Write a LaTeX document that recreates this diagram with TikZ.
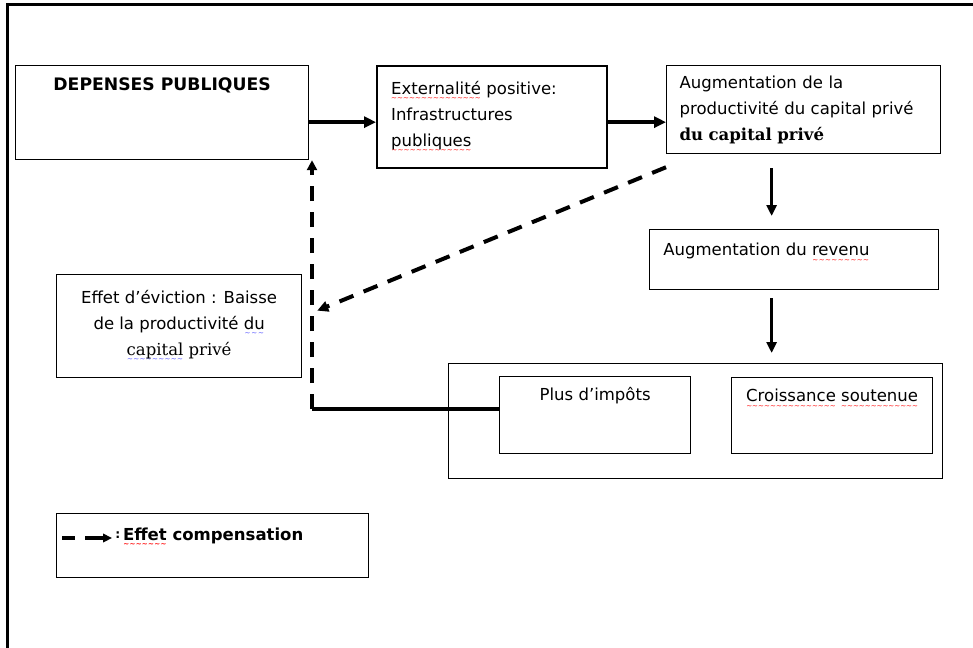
\documentclass[tikz,border=0pt]{standalone}
\usepackage{fontspec}
\setmainfont{DejaVu Sans}
\newfontfamily\cambria{DejaVu Serif}
\newfontfamily\wavefont{DejaVu Sans}
\usepackage{xcolor}
\usetikzlibrary{arrows.meta}

% wavy spell-check marks
\newcommand\wavemark[2]{\leavevmode\setbox0\hbox{#2}%
	\rlap{\raisebox{-3.6pt}{\textcolor{#1}{\hbox to \wd0{\xleaders\hbox{\wavefont\fontsize{4}{4}\selectfont\char"223C}\hfill}}}}\box0\relax}
\newcommand\redwave[1]{\wavemark{red}{#1}}
\newcommand\bluewave[1]{\wavemark{blue!70}{#1}}

\tikzset{
  box/.style={draw, line width=0.7pt, anchor=north west, inner sep=0pt},
  toptext/.style={anchor=north, inner sep=0pt},
  flow/.style={line width=0.7mm, -{Triangle[length=2.4mm, width=2.2mm]}},
  down/.style={line width=0.6mm, -{Triangle[length=2.2mm, width=2mm]}},
  comp/.style={line width=0.8mm, dash pattern=on 3mm off 2.2mm, -{Triangle[length=2.2mm, width=2.1mm]}},
}

\begin{document}
\begin{tikzpicture}[x=0.2mm, y=-0.2mm, font=\fontsize{9.4}{14.8}\selectfont]
	\useasboundingbox (0,0) rectangle (973,647);
	% page frame
	\draw[line width=0.6mm] (7,660) -- (7,4) -- (985,4);

	\node[box, minimum width=58.6mm, minimum height=18.8mm,
		label={[toptext, yshift=-2.4mm, font=\fontsize{9.8}{14.8}\selectfont\bfseries]north:DEPENSES PUBLIQUES}] (depenses) at (15,65) {};
	\node[box, line width=1.3pt, text width=40.4mm, inner xsep=2.8mm, minimum height=20.4mm, align=left] (extern) at (376,65)
		{\redwave{Externalité} positive:\\ Infrastructures\\ \redwave{publiques}};
	\node[box, text width=49.6mm, inner xsep=2.6mm, minimum height=17.6mm, align=left] (prod) at (666,65)
		{Augmentation de la\\ productivité du capital privé\\ {\cambria\bfseries du capital privé}};
	\node[box, minimum width=57.8mm, minimum height=12mm,
		label={[anchor=north west, inner sep=0pt, xshift=2.8mm, yshift=-2.8mm]north west:Augmentation du \redwave{revenu}}] (revenu) at (649,229) {};
	\node[box, minimum width=49mm, minimum height=20.6mm, align=center] (evict) at (56,274)
		{Effet d’éviction : Baisse\\ de la productivité \bluewave{du}\\ {\cambria\bluewave{capital} privé}};

	\node[box, minimum width=98.8mm, minimum height=23mm] (bigbox) at (448,363) {};
	\node[box, minimum width=38.2mm, minimum height=15.4mm,
		label={[toptext, yshift=-2.2mm]north:Plus d’impôts}] (impots) at (499,376) {};
	\node[box, minimum width=40.2mm, minimum height=15.2mm,
		label={[toptext, yshift=-2.4mm]north:\redwave{Croissance} \redwave{soutenue}}] (croissance) at (731,377) {};

	\node[box, minimum width=62.4mm, minimum height=12.8mm,
		label={[anchor=north west, inner sep=0pt, xshift=11.8mm, yshift=-2.9mm]north west:{\raisebox{0.4mm}{\scriptsize\bfseries:}\,\bfseries\redwave{Effet} compensation}}] (legend) at (56,513) {};

	% main chain
	\coordinate (ein) at ([yshift=-1mm]extern.west);
	\coordinate (eout) at ([yshift=-1mm]extern.east);
	\draw[flow] (depenses.east |- ein) -- (ein);
	\draw[flow] (eout) -- (eout -| prod.west);

	\coordinate (d1) at ([xshift=-6.4mm]prod.south);
	\draw[down, shorten <=2.8mm, shorten >=2.6mm] (d1) -- (d1 |- revenu.north);
	\draw[down, shorten <=1.6mm, shorten >=2mm] (d1 |- revenu.south) -- (d1 |- bigbox.north);

	% compensation effect
	\draw[comp] ([yshift=-2.6mm]prod.south west) -- ([xshift=3mm, yshift=3.1mm]evict.east);
	\coordinate (corner) at (312,409);
	\draw[line width=0.75mm] (impots.west |- corner) -- (corner);
	\draw[comp, -{Triangle[length=2mm, width=2mm]}] (corner) -- (corner |- depenses.south);

	% legend sample
	\draw[line width=0.7mm, dash pattern=on 2.6mm off 2mm on 4mm off 2mm, -{Triangle[length=1.8mm, width=1.7mm]}]
		([xshift=1.2mm, yshift=-5mm]legend.north west) -- ++(50,0);
\end{tikzpicture}
\end{document}
